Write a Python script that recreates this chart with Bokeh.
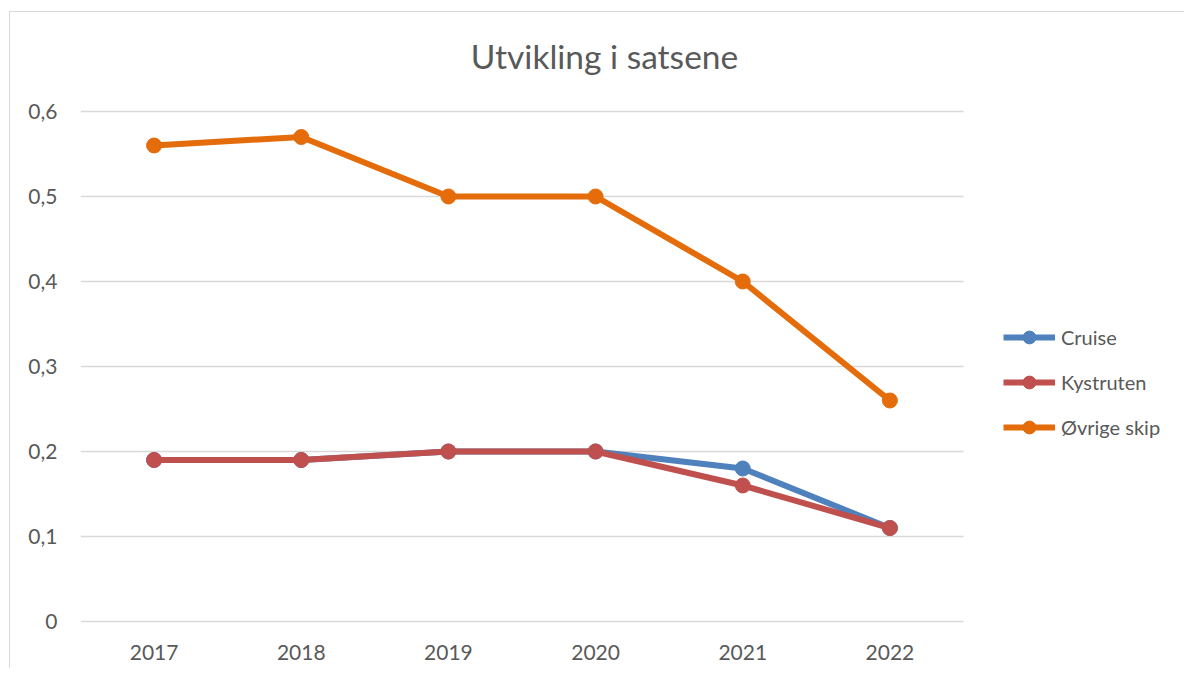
from bokeh.plotting import figure
from bokeh.models import (Range1d, FixedTicker, CustomJSTickFormatter,
                          Legend, LegendItem, InlineStyleSheet, Label)
from bokeh.embed import file_html
from bokeh.resources import INLINE

years = ["2017", "2018", "2019", "2020", "2021", "2022"]
cruise = [0.19, 0.19, 0.20, 0.20, 0.18, 0.11]
kystruten = [0.19, 0.19, 0.20, 0.20, 0.16, 0.11]
ovrige = [0.56, 0.57, 0.50, 0.50, 0.40, 0.26]
series_names = ["Cruise", "Kystruten", "Øvrige skip"]
series_values = [cruise, kystruten, ovrige]
colors = ["#4F81BD", "#C0504D", "#E46C0A"]
y_ticks = [0, 0.1, 0.2, 0.3, 0.4, 0.5, 0.6]
title_text = "Utvikling i satsene"

FONT = "Lato"
TXT = "#595959"
GRID = "#D9D9D9"

# category positions (centre of each category slot)
xpos = [i + 0.5 for i in range(len(years))]
n_cat = len(years)

# layout (pixels); canvas origin sits at page (10, 12)
W, H = 1175, 657
ML, MB = 70, 46
PX_PER_CAT = 883 / 6          # plot area width / number of categories
PX_PER_UNIT = 850             # pixels per 1.0 on the value axis
frame_w = W - ML
frame_h = H - MB
y0 = -2 / PX_PER_UNIT
y1 = y0 + frame_h / PX_PER_UNIT

p = figure(width=W, height=H, x_range=Range1d(0, frame_w / PX_PER_CAT), y_range=Range1d(y0, y1),
           output_backend="svg", toolbar_location=None,
           min_border_left=ML, min_border_right=0, min_border_top=0, min_border_bottom=MB)
p.margin = (11, 0, 0, 9)
p.stylesheets = [InlineStyleSheet(css=":host { border-left: 1px solid #D9D9D9; border-top: 1px solid #D9D9D9; border-right: none; border-bottom: none; }")]
p.outline_line_color = None
p.background_fill_color = "white"
p.border_fill_color = "white"

p.xaxis.ticker = FixedTicker(ticks=xpos)
p.xaxis.major_label_overrides = {x: y for x, y in zip(xpos, years)}
p.yaxis.ticker = FixedTicker(ticks=y_ticks)
p.yaxis.formatter = CustomJSTickFormatter(code="return Math.abs(tick) < 1e-9 ? '0' : tick.toFixed(1).replace('.', ',');")
for ax in (p.xaxis, p.yaxis):
    ax.axis_line_color = None
    ax.major_tick_line_color = None
    ax.minor_tick_line_color = None
    ax.major_label_text_font = FONT
    ax.major_label_text_font_size = "21px"
    ax.major_label_text_color = TXT
p.yaxis.major_label_standoff = 17
p.xaxis.major_label_standoff = 15
p.xgrid.grid_line_color = None
p.ygrid.grid_line_color = None

# horizontal gridlines across the plot area only
p.segment(x0=[0] * len(y_ticks), y0=y_ticks, x1=[n_cat] * len(y_ticks), y1=y_ticks,
          line_color=GRID, line_width=1.3)

items = []
for name, vals, c in zip(series_names, series_values, colors):
    l = p.line(xpos, vals, line_color=c, line_width=6)
    s = p.scatter(xpos, vals, size=15, fill_color=c, line_color=c)
    items.append(LegendItem(label=name, renderers=[l, s]))

legend = Legend(items=items, location=(923, 180), orientation="vertical",
                glyph_width=52, glyph_height=32, spacing=13, padding=0, margin=0,
                border_line_color=None, background_fill_alpha=0,
                label_text_font=FONT, label_text_font_size="20px",
                label_text_color=TXT, label_standoff=6)
p.add_layout(legend)

p.add_layout(Label(x=524, y=623 - 55, x_units="screen", y_units="screen", text=title_text,
                   text_align="center", text_baseline="middle", text_font=FONT,
                   text_font_size="33.5px", text_color=TXT))

open("out.html", "w").write(file_html(p, INLINE))
